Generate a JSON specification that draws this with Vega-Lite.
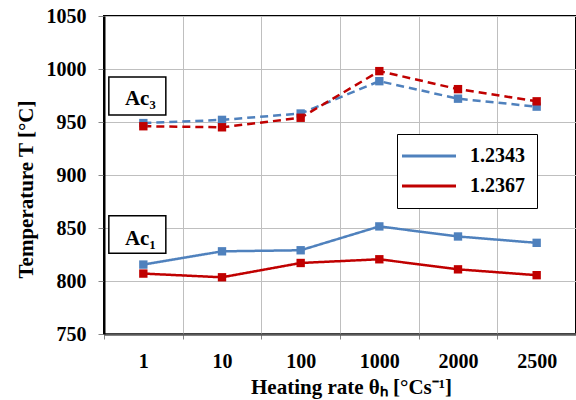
{
  "$schema": "https://vega.github.io/schema/vega-lite/v6.json",
  "width": 472,
  "height": 318,
  "autosize": {"type": "none"},
  "padding": {"left": 104, "top": 16, "right": 0, "bottom": 66},
  "background": "white",
  "config": {
    "view": {"stroke": "black", "strokeWidth": 2},
    "font": "Liberation Serif"
  },
  "datasets": {
    "temps": [
      {"rate": "1", "steel": "1.2343", "phase": "Ac3", "series": "1.2343 Ac3", "temp": 949},
      {"rate": "10", "steel": "1.2343", "phase": "Ac3", "series": "1.2343 Ac3", "temp": 952},
      {"rate": "100", "steel": "1.2343", "phase": "Ac3", "series": "1.2343 Ac3", "temp": 958},
      {"rate": "1000", "steel": "1.2343", "phase": "Ac3", "series": "1.2343 Ac3", "temp": 988.5},
      {"rate": "2000", "steel": "1.2343", "phase": "Ac3", "series": "1.2343 Ac3", "temp": 972},
      {"rate": "2500", "steel": "1.2343", "phase": "Ac3", "series": "1.2343 Ac3", "temp": 964.5},
      {"rate": "1", "steel": "1.2367", "phase": "Ac3", "series": "1.2367 Ac3", "temp": 946},
      {"rate": "10", "steel": "1.2367", "phase": "Ac3", "series": "1.2367 Ac3", "temp": 945},
      {"rate": "100", "steel": "1.2367", "phase": "Ac3", "series": "1.2367 Ac3", "temp": 954},
      {"rate": "1000", "steel": "1.2367", "phase": "Ac3", "series": "1.2367 Ac3", "temp": 998},
      {"rate": "2000", "steel": "1.2367", "phase": "Ac3", "series": "1.2367 Ac3", "temp": 981},
      {"rate": "2500", "steel": "1.2367", "phase": "Ac3", "series": "1.2367 Ac3", "temp": 969.5},
      {"rate": "1", "steel": "1.2343", "phase": "Ac1", "series": "1.2343 Ac1", "temp": 815.5},
      {"rate": "10", "steel": "1.2343", "phase": "Ac1", "series": "1.2343 Ac1", "temp": 828},
      {"rate": "100", "steel": "1.2343", "phase": "Ac1", "series": "1.2343 Ac1", "temp": 829},
      {"rate": "1000", "steel": "1.2343", "phase": "Ac1", "series": "1.2343 Ac1", "temp": 851.5},
      {"rate": "2000", "steel": "1.2343", "phase": "Ac1", "series": "1.2343 Ac1", "temp": 842},
      {"rate": "2500", "steel": "1.2343", "phase": "Ac1", "series": "1.2343 Ac1", "temp": 836},
      {"rate": "1", "steel": "1.2367", "phase": "Ac1", "series": "1.2367 Ac1", "temp": 807},
      {"rate": "10", "steel": "1.2367", "phase": "Ac1", "series": "1.2367 Ac1", "temp": 803.5},
      {"rate": "100", "steel": "1.2367", "phase": "Ac1", "series": "1.2367 Ac1", "temp": 817},
      {"rate": "1000", "steel": "1.2367", "phase": "Ac1", "series": "1.2367 Ac1", "temp": 820.5},
      {"rate": "2000", "steel": "1.2367", "phase": "Ac1", "series": "1.2367 Ac1", "temp": 811},
      {"rate": "2500", "steel": "1.2367", "phase": "Ac1", "series": "1.2367 Ac1", "temp": 805.5}
    ],
    "notes": [
      {"rate": "1", "top": 992.5, "bottom": 956.6, "base": 966, "label": "Ac₃"},
      {"rate": "1", "top": 861.6, "bottom": 826.1, "base": 834, "label": "Ac₁"}
    ]
  },
  "encoding": {
    "x": {
      "field": "rate",
      "type": "ordinal",
      "sort": ["1", "10", "100", "1000", "2000", "2500"],
      "scale": {"type": "band", "paddingInner": 0, "paddingOuter": 0},
      "axis": {
        "title": "Heating rate θₕ [°Cs⁻¹]",
        "titleFont": "Liberation Serif",
        "titleFontSize": 21,
        "titleFontWeight": "bold",
        "titleColor": "black",
        "titlePadding": 5,
        "titleX": 247,
        "labelFont": "Liberation Serif",
        "labelFontSize": 20,
        "labelFontWeight": "bold",
        "labelColor": "black",
        "labelAngle": 0,
        "labelPadding": 12,
        "tickBand": "extent",
        "tickColor": "#868686",
        "tickSize": 5,
        "domainColor": "#595959",
        "domainWidth": 2.5,
        "grid": true,
        "gridColor": "#BFBFBF",
        "gridWidth": 1
      }
    }
  },
  "layer": [
    {
      "data": {"name": "temps"},
      "mark": {"type": "line", "strokeWidth": 2.5},
      "encoding": {
        "y": {
          "field": "temp",
          "type": "quantitative",
          "scale": {"domain": [750, 1050], "nice": false, "zero": false},
          "axis": {
            "title": "Temperature T [°C]",
            "titleFont": "Liberation Serif",
            "titleFontSize": 21,
            "titleFontWeight": "bold",
            "titleColor": "black",
            "titlePadding": 10,
            "titleY": 173,
            "labelFont": "Liberation Serif",
            "labelFontSize": 20,
            "labelFontWeight": "bold",
            "labelColor": "black",
            "labelPadding": 12,
            "format": "d",
            "values": [750, 800, 850, 900, 950, 1000, 1050],
            "tickColor": "#868686",
            "tickSize": 6,
            "domainColor": "black",
            "domainWidth": 2,
            "grid": true,
            "gridColor": "#BFBFBF",
            "gridWidth": 1
          }
        },
        "detail": {"field": "series"},
        "color": {
          "field": "steel",
          "type": "nominal",
          "scale": {"domain": ["1.2343", "1.2367"], "range": ["#4F81BD", "#C00000"]},
          "legend": {
            "title": null,
            "orient": "none",
            "legendX": 293,
            "legendY": 118,
            "padding": 12,
            "rowPadding": 10,
            "strokeColor": "black",
            "fillColor": "white",
            "symbolType": "M-3.4,0H7.4",
            "symbolSize": 100,
            "symbolStrokeWidth": 3,
            "labelOffset": 41,
            "labelFont": "Liberation Serif",
            "labelFontSize": 20,
            "labelFontWeight": "bold",
            "labelColor": "black"
          }
        },
        "strokeDash": {
          "field": "phase",
          "type": "nominal",
          "scale": {"domain": ["Ac1", "Ac3"], "range": [[1, 0], [8, 5]]},
          "legend": null
        }
      }
    },
    {
      "data": {"name": "temps"},
      "mark": {"type": "point", "shape": "square", "filled": true, "opacity": 1, "size": 70},
      "encoding": {
        "y": {"field": "temp", "type": "quantitative"},
        "fill": {
          "field": "steel",
          "type": "nominal",
          "scale": {"domain": ["1.2343", "1.2367"], "range": ["#4F81BD", "#C00000"]},
          "legend": null
        }
      }
    },
    {
      "data": {"name": "notes"},
      "mark": {"type": "bar", "width": 57, "xOffset": -6, "fill": "white", "stroke": "black", "strokeWidth": 1.5},
      "encoding": {
        "y": {"field": "top", "type": "quantitative"},
        "y2": {"field": "bottom"}
      }
    },
    {
      "data": {"name": "notes"},
      "mark": {"type": "text", "font": "Liberation Serif", "fontSize": 21, "fontWeight": "bold", "color": "black", "baseline": "alphabetic", "align": "center", "xOffset": -3},
      "encoding": {
        "y": {"field": "base", "type": "quantitative"},
        "text": {"field": "label"}
      }
    }
  ]
}
